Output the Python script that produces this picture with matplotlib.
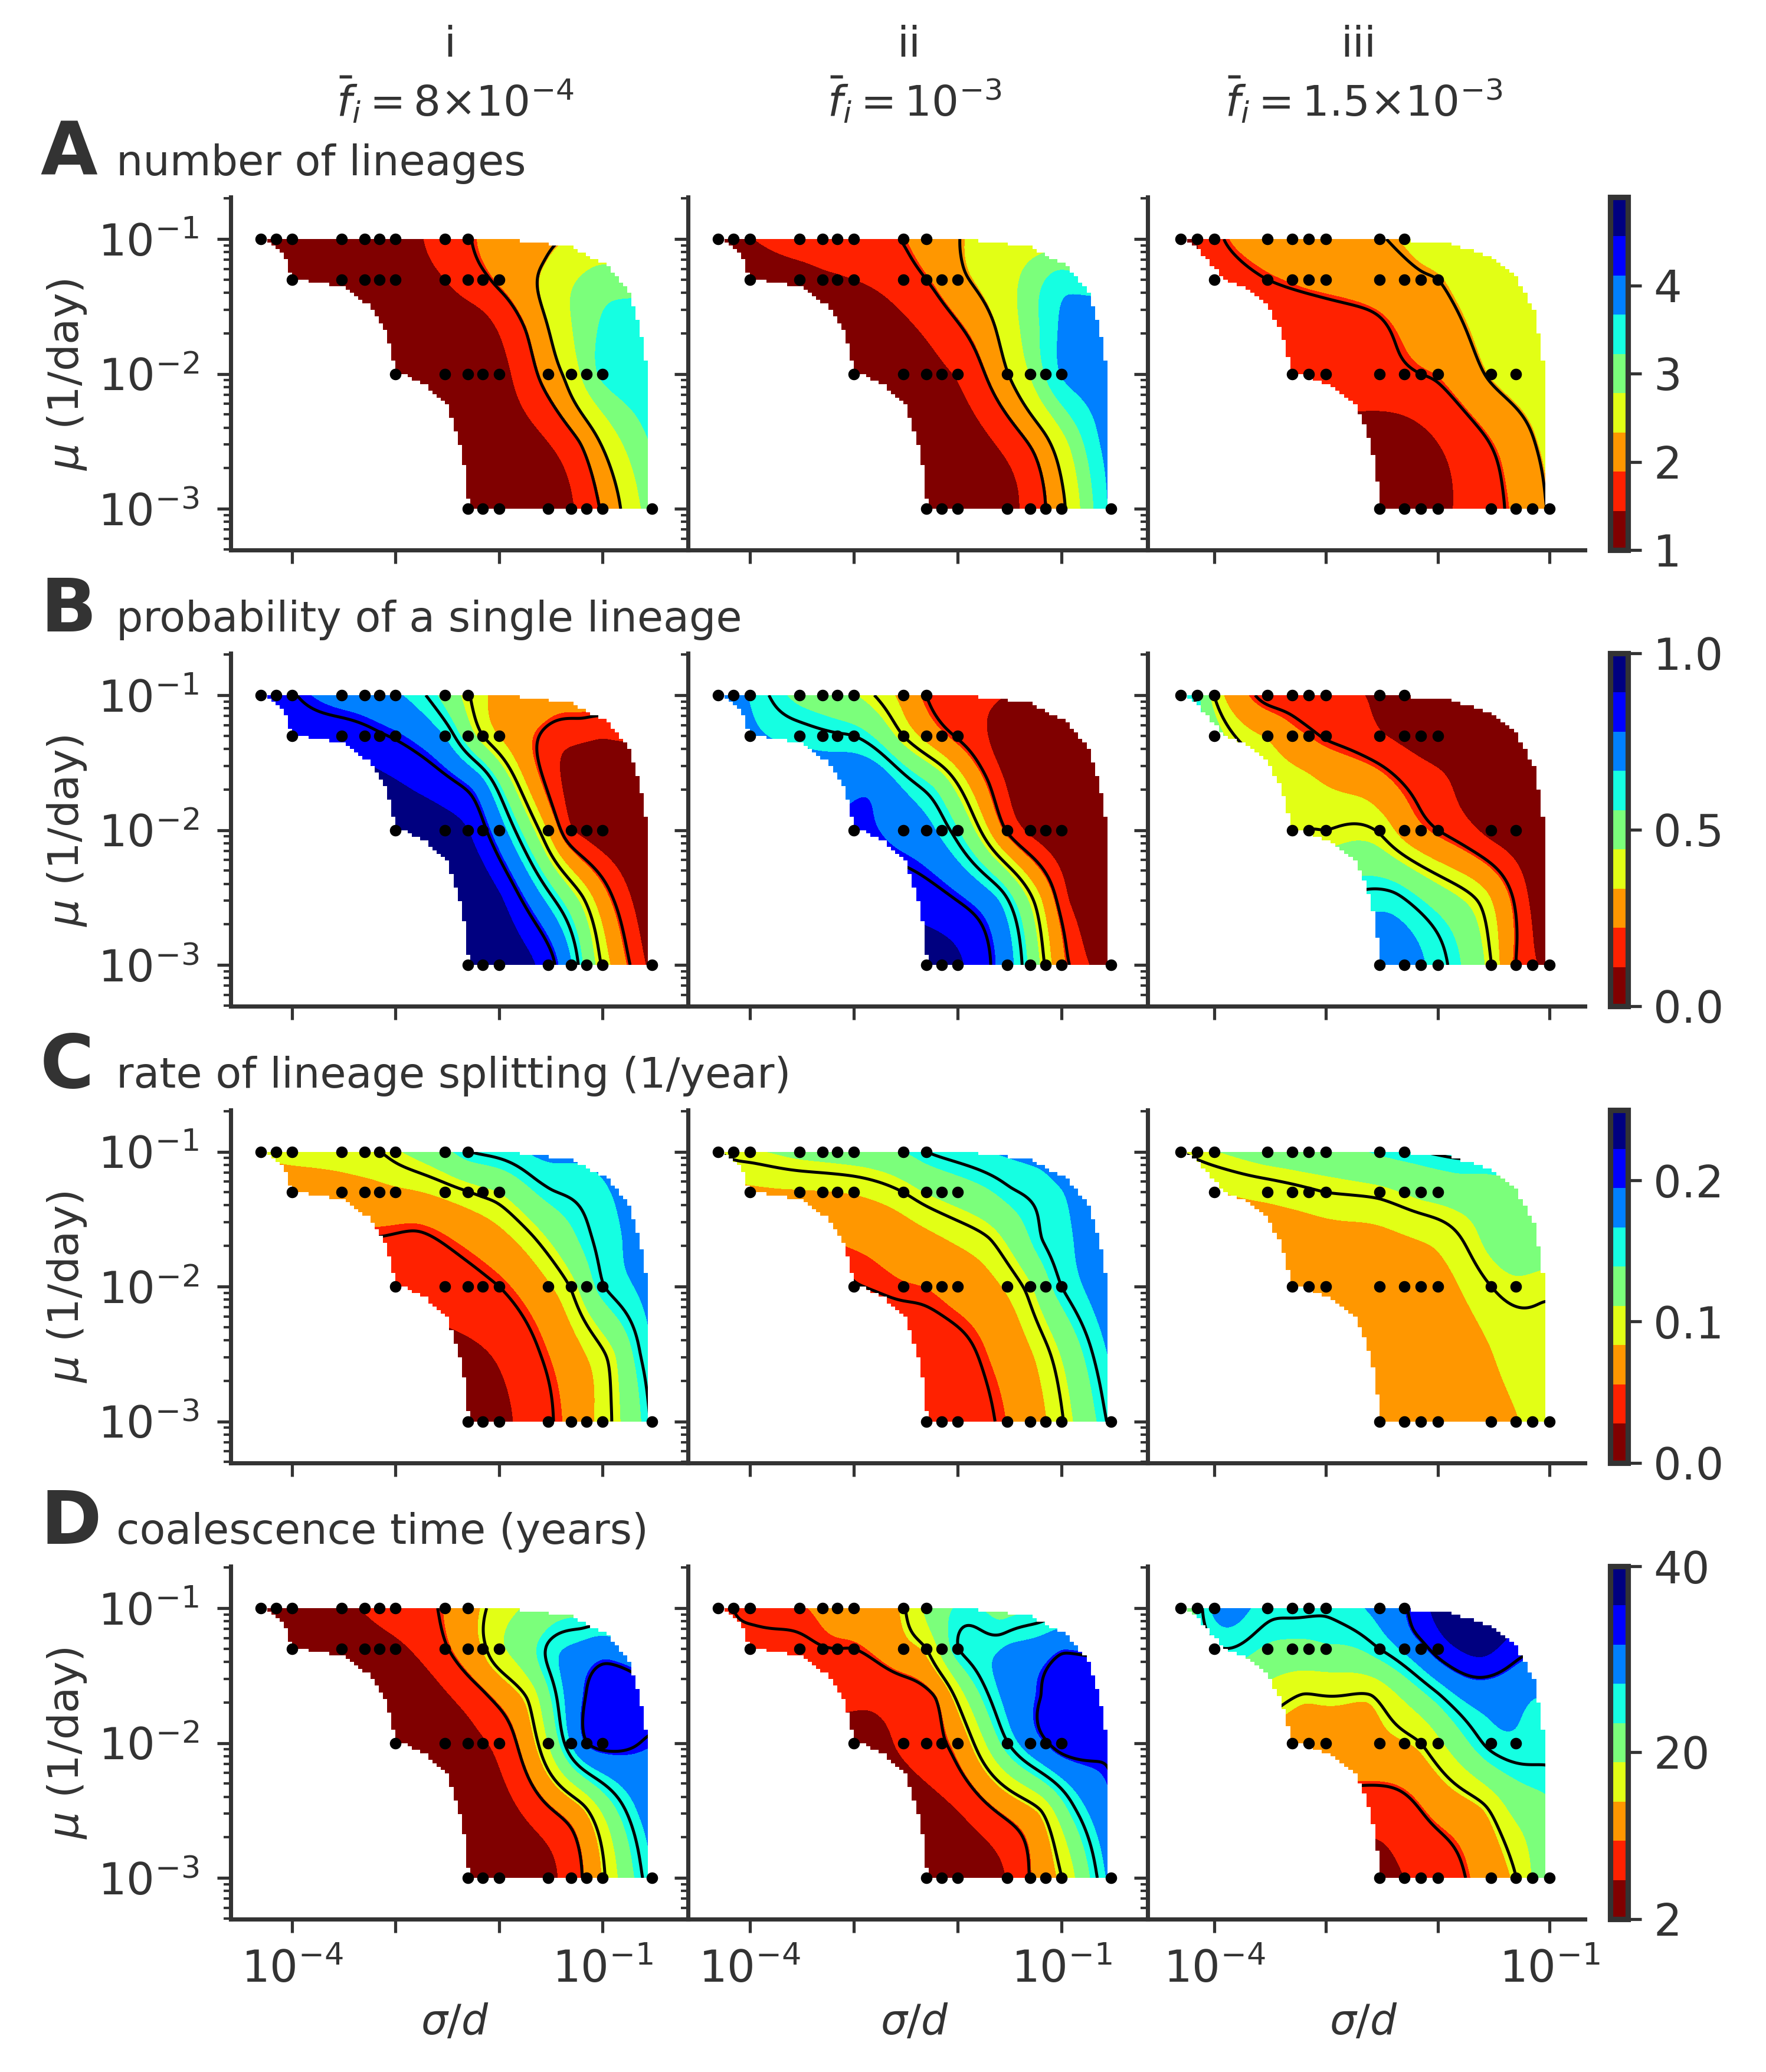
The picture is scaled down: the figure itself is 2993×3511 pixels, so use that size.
import matplotlib
matplotlib.use('Agg')
import matplotlib.pyplot as plt
from matplotlib.patches import Polygon
from matplotlib.ticker import NullLocator
import numpy as np

W, H = 2993, 3511
TXT = '#333333'

# simulated parameter values (the black dots), one list per mu row
mu_rows = [0.1, 0.05, 0.01, 0.001]
sig_100 = [5e-5, 7e-5, 1e-4, 3e-4, 5e-4, 7e-4, 1e-3, 3e-3, 5e-3]
sig_050 = [1e-4, 3e-4, 5e-4, 7e-4, 1e-3, 3e-3, 5e-3, 7e-3, 0.01]
sig_010 = [1e-3, 3e-3, 5e-3, 7e-3, 0.01, 0.03, 0.05, 0.07, 0.1]
sig_001 = [5e-3, 7e-3, 0.01, 0.03, 0.05, 0.07, 0.1, 0.3]
sig_010_iii = [5e-4, 7e-4, 1e-3, 3e-3, 5e-3, 7e-3, 0.01, 0.03, 0.05]
sig_001_iii = [3e-3, 5e-3, 7e-3, 0.01, 0.03, 0.05, 0.07, 0.1]

# values at the dots
lineages_i = [[1.05, 1.08, 1.1, 1.15, 1.2, 1.25, 1.3, 1.6, 1.82],
              [1.1, 1.15, 1.2, 1.25, 1.3, 1.44, 1.65, 1.78, 1.93],
              [1.05, 1.15, 1.2, 1.25, 1.32, 2.05, 2.5, 2.95, 3.3],
              [1.03, 1.05, 1.08, 1.2, 1.40, 1.65, 1.9, 3.0]]
lineages_ii = [[1.3, 1.38, 1.43, 1.6, 1.65, 1.7, 1.75, 1.87, 2.05],
               [1.25, 1.3, 1.37, 1.40, 1.44, 1.68, 1.85, 2.0, 2.2],
               [1.1, 1.2, 1.3, 1.38, 1.48, 2.28, 2.8, 3.25, 3.7],
               [1.05, 1.07, 1.1, 1.3, 1.6, 1.85, 2.2, 3.75]]
lineages_iii = [[1.35, 1.44, 1.75, 2.0, 2.05, 2.08, 2.12, 2.28, 2.35],
                [1.55, 1.85, 1.91, 1.95, 1.98, 2.13, 2.2, 2.26, 2.3],
                [1.5, 1.55, 1.6, 1.72, 1.8, 1.85, 1.9, 2.36, 2.5],
                [1.2, 1.22, 1.28, 1.35, 1.75, 1.95, 2.15, 2.33]]

single_i = [[.87, .85, .81, .74, .72, .70, .68, .52, .41],
            [.87, .85, .83, .81, .79, .66, .50, .40, .33],
            [.97, .92, .89, .82, .72, .32, .12, .08, .05],
            [.97, .96, .94, .84, .67, .52, .39, .08]]
single_ii = [[.8, .72, .66, .53, .50, .48, .45, .3, .2],
             [.70, .64, .62, .61, .60, .4, .3, .24, .19],
             [.785, .74, .70, .64, .56, .19, .09, .06, .04],
             [.93, .92, .90, .71, .53, .39, .25, .05]]
single_iii = [[.68, .58, .40, .17, .16, .15, .14, .10, .07],
              [.5, .32, .25, .22, .19, .12, .09, .07, .05],
              [.38, .40, .40, .39, .29, .24, .20, .08, .05],
              [.74, .72, .68, .63, .40, .2, .13, .06]]

split_i = [[.088, .09, .092, .095, .098, .10, .108, .133, .149],
           [.066, .072, .075, .077, .079, .09, .099, .105, .111],
           [.033, .037, .041, .045, .05, .08, .102, .125, .148],
           [.018, .018, .022, .047, .062, .077, .09, .152]]
split_ii = [[.10, .106, .108, .118, .121, .123, .125, .138, .15],
            [.078, .081, .082, .083, .085, .10, .112, .118, .124],
            [.049, .054, .056, .06, .066, .087, .108, .13, .15],
            [.032, .034, .037, .056, .07, .082, .098, .155]]
split_iii = [[.10, .105, .11, .122, .125, .127, .128, .142, .147],
             [.082, .09, .094, .097, .1, .105, .112, .117, .12],
             [.062, .063, .065, .067, .069, .071, .074, .10, .107],
             [.06, .062, .064, .066, .075, .082, .089, .095]]

coal_i = [[3.5, 3.8, 4, 5.5, 6.4, 7, 7.6, 10.6, 13],
          [3.5, 4, 4.5, 5, 5.5, 9.6, 12.5, 14.8, 18],
          [2.5, 3.5, 5, 5.9, 7.2, 18.9, 27.5, 31.8, 33],
          [2.5, 2.7, 3, 5.3, 8, 10.9, 14.8, 27]]
coal_ii = [[6.5, 10, 10.2, 10.35, 10.7, 11.2, 11.8, 15.2, 19.5],
           [9, 9.6, 9.9, 10, 10, 13.5, 15.5, 20, 24.8],
           [5, 6.7, 8, 9.5, 11.6, 24.8, 29.5, 31.6, 33.5],
           [2.5, 3, 3.5, 6.4, 10.2, 13, 15.5, 28.5]]
coal_iii = [[20, 23.5, 28, 26, 25.8, 25.6, 25.5, 28.5, 31.5],
            [24.5, 22.5, 22, 22, 22.5, 25, 28, 30.5, 33.5],
            [13, 13, 13.2, 13.8, 14.5, 15.5, 18, 26, 26.8],
            [5, 6.2, 7, 8, 12.5, 15.5, 19, 22]]

# places between and beyond the dots where the colour was also read
ext_x = [-2.0, -1.6, -1.2, -0.9, -0.6, -0.55, -2.8, -2.2, -1.7, -1.2, -0.8, -1.5, -1.0, -1.6, -1.2, -0.9]
ext_x_iii = [-2.4, -2.0, -1.6, -1.3, -1.05, -1.03, -3.2, -2.6, -2.0, -1.5, -1.15, -1.6, -1.3, -2.2, -1.8, -1.4]
ext_y = [-2.5, -2.5, -2.5, -2.5, -2.5, -2.0, -1.65, -1.65, -1.65, -1.65, -1.65, -1.3, -1.3, -1.15, -1.15, -1.15]

lineages_i_ext = [1.2, 1.38, 1.9, 2.6, 3.15, 3.45, 1.1, 1.25, 1.95, 2.95, 3.4, 2.5, 3.0, 2.25, 2.6, 2.7]
lineages_ii_ext = [1.2, 1.5, 2.1, 2.9, 3.75, 3.95, 1.2, 1.6, 2.2, 3.25, 3.95, 2.65, 3.45, 2.55, 2.85, 2.9]
lineages_iii_ext = [1.2, 1.45, 1.8, 2.1, 2.4, 2.6, 1.6, 1.75, 2.1, 2.5, 2.65, 2.55, 2.6, 2.33, 2.5, 2.55]
single_i_ext = [.9, .68, .41, .2, .06, .03, .87, .72, .30, .05, .03, .16, .12, .25, .21, .2]
single_ii_ext = [.79, .65, .33, .09, .04, .03, .75, .52, .2, .03, .02, .05, .03, .10, .09, .08]
single_iii_ext = [.62, .5, .37, .18, .03, .02, .36, .28, .14, .03, .02, .03, .03, .06, .05, .04]
split_i_ext = [.03, .05, .08, .108, .155, .175, .045, .065, .095, .142, .167, .148, .162, .158, .162, .175]
split_ii_ext = [.042, .062, .09, .125, .162, .185, .061, .08, .099, .149, .172, .147, .165, .155, .165, .19]
split_iii_ext = [.06, .066, .079, .092, .097, .103, .07, .076, .088, .118, .125, .125, .128, .132, .14, .142]
coal_i_ext = [4.5, 8.5, 14, 22, 28.5, 31.7, 3.5, 8.8, 16.5, 31.3, 34, 26, 30, 22, 25, 25.5]
coal_ii_ext = [6.2, 10.5, 15.5, 24, 30, 32.5, 7, 10.5, 25, 32, 35, 28, 31.3, 24, 26, 27.5]
coal_iii_ext = [8, 11.5, 14.5, 20, 22, 26, 15.3, 15.4, 24.5, 29, 27.5, 37, 33.5, 32.5, 38, 37]

# edge of the filled area, log10(mu) -> log10(sigma/d)
left_y = [-3, -2.58, -2.25, -2.09, -1.99, -1.69, -1.5, -1.37, -1.33, -1.30, -1.13, -1]
left_x = [-2.29, -2.36, -2.49, -2.71, -3.0, -3.09, -3.26, -3.48, -3.82, -4.0, -4.08, -4.3]
right_y = [-3, -2.01, -1.8, -1.64, -1.42, -1.21, -1.075, -1.03, -1.0]
right_x = [-.555, -.555, -.605, -.65, -.73, -.95, -1.29, -1.72, -2.2]
left_y_iii = [-3, -2.52, -2.25, -2.07, -2.0, -1.69, -1.5, -1.37, -1.32, -1.18, -1]
left_x_iii = [-2.50, -2.60, -2.73, -3.03, -3.30, -3.40, -3.53, -3.73, -3.91, -4.04, -4.26]
right_y_iii = [-3, -2.07, -1.80, -1.56, -1.29, -1.14, -1.05, -1.02, -1.0]
right_x_iii = [-1.03, -1.03, -1.08, -1.13, -1.30, -1.52, -1.89, -2.29, -2.4]

titles = ['number of lineages', 'probability of a single lineage',
          'rate of lineage splitting (1/year)', 'coalescence time (years)']
letters = ['A', 'B', 'C', 'D']
col_names = ['i', 'ii', 'iii']
col_fbar = [r'$\bar{f}_i=8{\times}10^{-4}$', r'$\bar{f}_i=10^{-3}$', r'$\bar{f}_i=1.5{\times}10^{-3}$']
panels = [[lineages_i, lineages_ii, lineages_iii],
          [single_i, single_ii, single_iii],
          [split_i, split_ii, split_iii],
          [coal_i, coal_ii, coal_iii]]
panels_ext = [[lineages_i_ext, lineages_ii_ext, lineages_iii_ext],
              [single_i_ext, single_ii_ext, single_iii_ext],
              [split_i_ext, split_ii_ext, split_iii_ext],
              [coal_i_ext, coal_ii_ext, coal_iii_ext]]
ranges = [(1, 5), (0, 1), (0, .25), (2, 40)]
line_levels = [[1.85, 2.3], [.2, .4, .6, .8], [.05, .1, .15], [10, 15.5, 25, 32]]
cbar_ticks = [[1, 2, 3, 4], [0, .5, 1], [0, .1, .2], [2, 20, 40]]
cbar_labels = [['1', '2', '3', '4'], ['0.0', '0.5', '1.0'], ['0.0', '0.1', '0.2'], ['2', '20', '40']]


def surface(xs, ys, zs, gx, gy):
    # thin plate fit through the read values
    xs, ys, zs = np.array(xs), np.array(ys), np.array(zs)
    n = len(xs)
    r = np.hypot(xs[:, None] - xs[None, :], ys[:, None] - ys[None, :])
    K = r ** 2 * np.log(r + 1e-9)
    P = np.column_stack([np.ones(n), xs, ys])
    A = np.block([[K, P], [P.T, np.zeros((3, 3))]])
    w = np.linalg.solve(A, np.r_[zs, np.zeros(3)])
    X, Y = np.meshgrid(gx, gy)
    r = np.hypot(X[..., None] - xs, Y[..., None] - ys)
    Z = (r ** 2 * np.log(r + 1e-9) * w[:n]).sum(axis=-1)
    return X, Y, Z + w[n] + w[n + 1] * X + w[n + 2] * Y


def mask_patch(ax, ly, lx, ry, rx):
    yy = np.arange(-3, -1 + 0.001, 0.025)
    xl = np.round(np.interp(yy, ly, lx) / 0.04) * 0.04
    xr = np.round(np.interp(yy, ry, rx) / 0.04) * 0.04
    pts = []
    for k in range(len(yy) - 1):
        pts += [(xr[k], yy[k]), (xr[k], yy[k + 1])]
    for k in range(len(yy) - 2, -1, -1):
        pts += [(xl[k], yy[k + 1]), (xl[k], yy[k])]
    return Polygon(10.0 ** np.array(pts), closed=True, transform=ax.transData,
                   fc='none', ec='none')


plt.rcParams['font.family'] = 'DejaVu Sans'
plt.rcParams['mathtext.fontset'] = 'dejavusans'
fig = plt.figure(figsize=(W / 300, H / 300), dpi=300)

col_left = [391, 1166, 1945]
col_width = [775, 779, 741]
row_top = [334, 1107, 1880.5, 2654]
ax_h = 598
xlims = [(-4.593, -0.173), (-4.593, -0.173), (-4.596, -0.686)]


def px_rect(x, top, w, h):
    return [x / W, 1 - (top + h) / H, w / W, h / H]


for r in range(4):
    lo, hi = ranges[r]
    levels = np.linspace(lo, hi, 10)
    for c in range(3):
        ax = fig.add_axes(px_rect(col_left[c], row_top[r], col_width[c], ax_h))
        if c < 2:
            sigs = [sig_100, sig_050, sig_010, sig_001]
            edges = (left_y, left_x, right_y, right_x)
            ex = ext_x
        else:
            sigs = [sig_100, sig_050, sig_010_iii, sig_001_iii]
            edges = (left_y_iii, left_x_iii, right_y_iii, right_x_iii)
            ex = ext_x_iii
        xs, ys, zs = [], [], []
        for m, sg, vals in zip(mu_rows, sigs, panels[r][c]):
            xs += list(np.log10(sg))
            ys += [np.log10(m)] * len(sg)
            zs += list(vals)
        X, Y, Z = surface(xs + ex, ys + ext_y, zs + panels_ext[r][c],
                          np.linspace(-4.4, -0.5, 260), np.linspace(-3, -1, 200))
        cs = ax.contourf(10.0 ** X, 10.0 ** Y, np.clip(Z, lo + 1e-6, hi - 1e-6),
                         levels=levels, cmap=plt.get_cmap('jet_r', 9))
        cl = ax.contour(10.0 ** X, 10.0 ** Y, Z, levels=line_levels[r], colors='k', linewidths=1.2)
        ax.set_xscale('log')
        ax.set_yscale('log')
        clip = mask_patch(ax, *edges)
        ax.add_patch(clip)
        cs.set_clip_path(clip)
        cl.set_clip_path(clip)
        ax.scatter(10.0 ** np.array(xs), 10.0 ** np.array(ys), s=22, c='k', lw=0, zorder=5, clip_on=False)

        ax.set_xlim(10 ** xlims[c][0], 10 ** xlims[c][1])
        ax.set_ylim(10 ** -3.306, 10 ** -0.689)
        for side in ['top', 'right']:
            ax.spines[side].set_visible(False)
        for side in ['left', 'bottom']:
            ax.spines[side].set_linewidth(1.7)
            ax.spines[side].set_color(TXT)
        ax.set_xticks([1e-4, 1e-3, 1e-2, 1e-1])
        ax.xaxis.set_minor_locator(NullLocator())
        ax.set_yticks([1e-3, 1e-2, 1e-1])
        ax.tick_params(axis='both', which='major', length=5.5, width=1.25, color=TXT,
                       labelcolor=TXT, labelsize=18)
        ax.tick_params(axis='x', which='major', pad=6.5)
        ax.tick_params(axis='y', which='major', pad=7.5)
        ax.tick_params(axis='y', which='minor', length=3, width=1.0, color=TXT)
        ax.yaxis.set_minor_formatter(plt.NullFormatter())
        if r == 3:
            ax.set_xticklabels(['$10^{-4}$', '', '', '$10^{-1}$'])
        else:
            ax.set_xticklabels(['', '', '', ''])
        if c == 0:
            ax.set_yticklabels(['$10^{-3}$', '$10^{-2}$', '$10^{-1}$'])
        else:
            ax.set_yticklabels(['', '', ''])

    cax = fig.add_axes(px_rect(2728.5, row_top[r], 30, ax_h))
    cb = fig.colorbar(cs, cax=cax)
    cb.outline.set_linewidth(2.2)
    cb.outline.set_edgecolor(TXT)
    cb.set_ticks(cbar_ticks[r])
    cb.set_ticklabels(cbar_labels[r])
    cax.tick_params(length=5.5, width=1.25, color=TXT, labelcolor=TXT, labelsize=18, pad=5)
    cax.minorticks_off()

    fig.text(68 / W, 1 - (297 + 773 * r) / H, letters[r], fontsize=30, fontweight='bold',
             color=TXT, ha='left', va='baseline')
    fig.text(197 / W, 1 - (297 + 773 * r) / H, titles[r], fontsize=17.2, color=TXT,
             ha='left', va='baseline')
    fig.text(113 / W, 1 - (635 + 773 * r) / H, r'$\mu$ (1/day)', fontsize=17.3, color=TXT,
             rotation=90, ha='center', va='center')

for c, (cx, nx) in enumerate([(771, 762), (1550, 1540), (2311, 2302)]):
    fig.text(nx / W, 1 - 77 / H, col_names[c], fontsize=17.3, color=TXT, ha='center', va='center')
    fig.text(cx / W, 1 - 170 / H, col_fbar[c], fontsize=17.3, color=TXT, ha='center', va='center')
    fig.text(cx / W, 1 - 3428 / H, r'$\sigma/d$', fontsize=17, color=TXT, ha='center', va='center')

fig.savefig('out.png', dpi=300)
